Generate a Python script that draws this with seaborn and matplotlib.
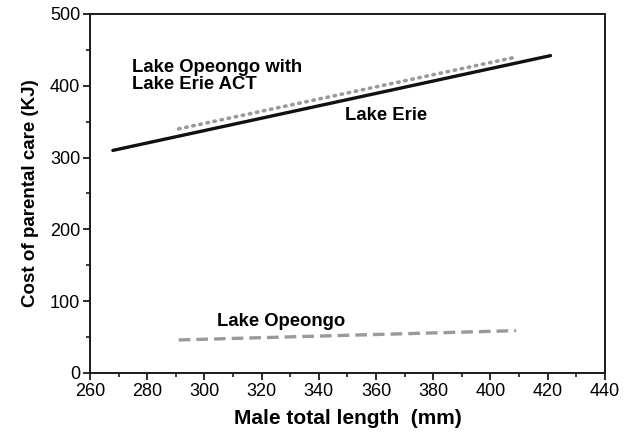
import matplotlib
matplotlib.use("Agg")
import matplotlib.pyplot as plt
import seaborn as sns
import pandas as pd
from matplotlib.ticker import MultipleLocator

# Data
erie_x = [268, 421]
erie_y = [310, 442]
act_x = [291, 409]
act_y = [340, 440]
opeongo_x = [291, 409]
opeongo_y = [46, 59]

sns.set_theme(style="ticks")
plt.rcParams['font.family'] = ['Liberation Sans', 'DejaVu Sans']
plt.rcParams['text.color'] = 'black'
plt.rcParams['axes.labelcolor'] = 'black'

fig = plt.figure(figsize=(6.32, 4.37), dpi=100)
ax = fig.add_axes([0.1424, 0.1465, 0.8146, 0.8215])

sns.lineplot(x=erie_x, y=erie_y, ax=ax, color="#111111", linewidth=2.4)
sns.lineplot(x=act_x, y=act_y, ax=ax, color="#9a9a9a", linewidth=2.6,
             linestyle=(0, (0.4, 1.6)), dash_capstyle="round")
sns.lineplot(x=opeongo_x, y=opeongo_y, ax=ax, color="#9a9a9a", linewidth=2.4,
             linestyle=(0, (3.5, 1.8)))

ax.set_xlim(260, 440)
ax.set_ylim(0, 500)
ax.xaxis.set_major_locator(MultipleLocator(20))
ax.xaxis.set_minor_locator(MultipleLocator(10))
ax.yaxis.set_major_locator(MultipleLocator(100))
ax.yaxis.set_minor_locator(MultipleLocator(50))
ax.tick_params(which="major", length=5, width=1.3, color="#1a1a1a",
               labelsize=13, labelcolor="black", pad=2)
ax.tick_params(which="minor", length=3, width=1.2, color="#1a1a1a")
for s in ax.spines.values():
    s.set_linewidth(1.4)
    s.set_color("#1a1a1a")

ax.set_xlabel("Male total length  (mm)", fontsize=15, fontweight="bold", labelpad=7, color="black")
ax.set_ylabel("Cost of parental care (KJ)", fontsize=13.5, fontweight="bold", labelpad=8, color="black")

ax.text(274.7, 437, "Lake Opeongo with\nLake Erie ACT", fontsize=13.3, fontweight="bold",
        va="top", ha="left", linespacing=0.95, color="black")
ax.text(349.1, 371, "Lake Erie", fontsize=13.3, fontweight="bold", va="top", ha="left", color="black")
ax.text(304.4, 83, "Lake Opeongo", fontsize=13.3, fontweight="bold", va="top", ha="left", color="black")

fig.savefig("out.png", dpi=100)
